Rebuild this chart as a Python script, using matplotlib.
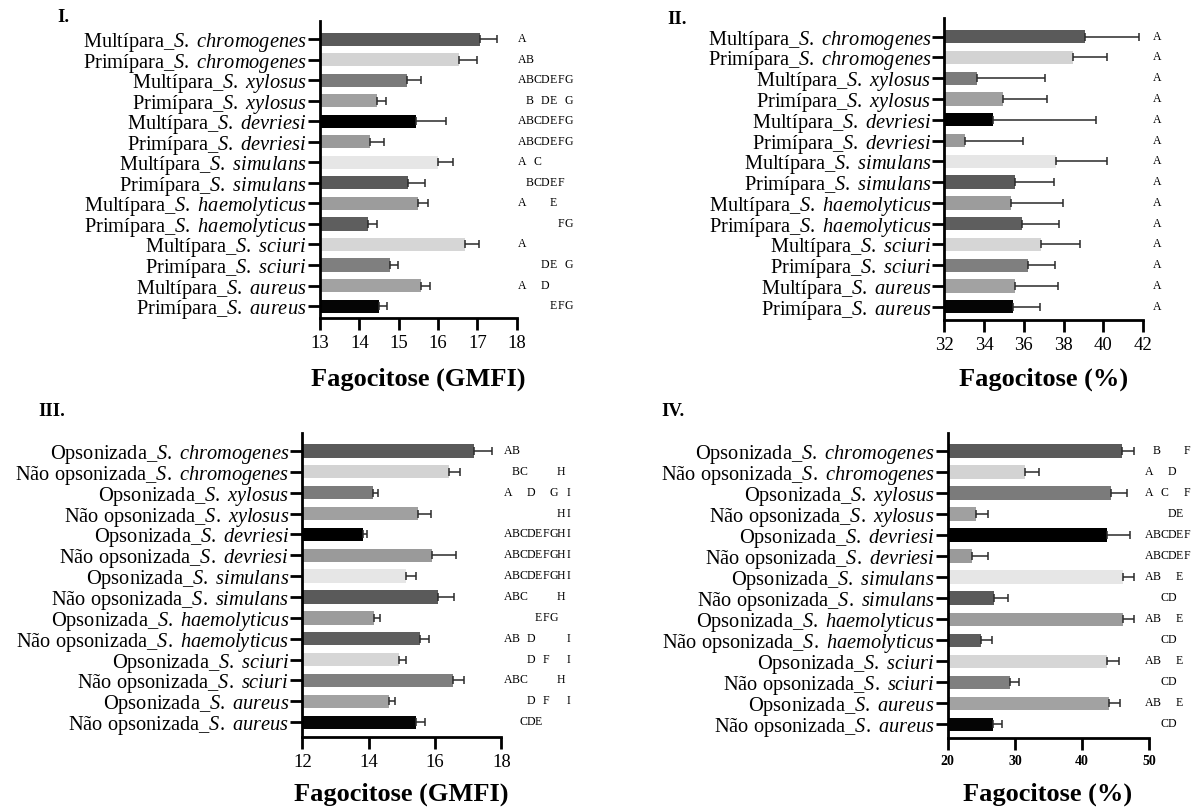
import matplotlib
matplotlib.use('Agg')
import matplotlib.pyplot as plt

plt.rcParams['font.family'] = ['Liberation Serif', 'DejaVu Serif']
plt.rcParams['mathtext.fontset'] = 'custom'
plt.rcParams['mathtext.rm'] = 'Liberation Serif'
plt.rcParams['mathtext.it'] = 'Liberation Serif:italic'
plt.rcParams['mathtext.bf'] = 'Liberation Serif:bold'

# ---------------- data ----------------
species = ['chromogenes', 'xylosus', 'devriesi', 'simulans', 'haemolyticus', 'sciuri', 'aureus']
groups_parity = ['Multípara', 'Primípara']
groups_ops = ['Opsonizada', 'Não opsonizada']

gmfi_parity_mean = [17.06, 16.54, 15.20, 14.46, 15.45, 14.28, 16.01, 15.23, 15.50, 14.23, 16.69, 14.78, 15.57, 14.49]
gmfi_parity_sem = [0.45, 0.44, 0.37, 0.21, 0.75, 0.35, 0.36, 0.44, 0.25, 0.23, 0.34, 0.21, 0.23, 0.21]
gmfi_parity_letters = ['A', 'AB', 'ABCDEFG', 'BDEG', 'ABCDEFG', 'ABCDEFG', 'AC', 'BCDEF', 'AE', 'FG', 'A', 'DEG', 'AD', 'EFG']

pct_parity_mean = [39.10, 38.47, 33.63, 34.97, 34.44, 33.04, 37.60, 35.53, 35.34, 35.92, 36.88, 36.20, 35.53, 35.44]
pct_parity_sem = [2.69, 1.73, 3.46, 2.21, 5.18, 2.93, 2.60, 1.98, 2.65, 1.84, 1.93, 1.35, 2.17, 1.36]
pct_parity_letters = ['A'] * 14

gmfi_ops_mean = [17.19, 16.41, 14.13, 15.50, 13.82, 15.92, 15.14, 16.10, 14.17, 15.54, 14.92, 16.53, 14.60, 15.43]
gmfi_ops_sem = [0.52, 0.34, 0.15, 0.37, 0.14, 0.72, 0.30, 0.46, 0.16, 0.29, 0.22, 0.34, 0.19, 0.26]
gmfi_ops_letters = ['AB', 'BCH', 'ADGI', 'HI', 'ABCDEFGHI', 'ABCDEFGHI', 'ABCDEFGHI', 'ABCH', 'EFG', 'ABDI', 'DFI', 'ABCH', 'DFI', 'CDE']

pct_ops_mean = [45.90, 31.53, 44.30, 24.15, 43.75, 23.58, 46.10, 26.90, 46.10, 25.00, 43.75, 29.26, 44.00, 26.70]
pct_ops_sem = [1.80, 2.11, 2.40, 1.82, 3.45, 2.42, 1.60, 2.08, 1.70, 1.60, 1.70, 1.34, 1.70, 1.40]
pct_ops_letters = ['BF', 'AD', 'ACF', 'DE', 'ABCDEF', 'ABCDEF', 'ABE', 'CD', 'ABE', 'CD', 'ABE', 'CD', 'ABE', 'CD']

bar_colors = ['#5a5a5a', '#d3d3d3', '#7b7b7b', '#a0a0a0', '#000000', '#9a9a9a', '#e6e6e6',
              '#5a5a5a', '#9c9c9c', '#5e5e5e', '#d6d6d6', '#7f7f7f', '#a2a2a2', '#050505']

labels_parity = [f'{g}_$\\mathit{{S.\\ {s}}}$' for s in species for g in groups_parity]
labels_ops = [f'{g}_$\\mathit{{S.\\ {s}}}$' for s in species for g in groups_ops]

W, H = 1198, 807
fig = plt.figure(figsize=(W / 100, H / 100), dpi=100)


def px_axes(l, r, t, b):
    return [l / W, 1 - b / H, (r - l) / W, (b - t) / H]


panels = [
    dict(rect=px_axes(320, 516.7, 21, 318), ylim=(13.58, -0.88), xlim=(13, 18), xticks=[13, 14, 15, 16, 17, 18],
         mean=gmfi_parity_mean, sem=gmfi_parity_sem, letters=gmfi_parity_letters, labels=labels_parity,
         lx0=1.9, lw=7.65, tickfont=dict(size=13.5), xlabel='Fagocitose (GMFI)', xlab_xy=(418, 379),
         title='I.', title_xy=(57, 17)),
    dict(rect=px_axes(944.4, 1143, 18, 320), ylim=(13.64, -0.90), xlim=(32, 42), xticks=[32, 34, 36, 38, 40, 42],
         mean=pct_parity_mean, sem=pct_parity_sem, letters=pct_parity_letters, labels=labels_parity,
         lx0=10, lw=7.6, tickfont=dict(size=13.5), xlabel='Fagocitose (%)', xlab_xy=(1044, 379),
         title='II.', title_xy=(667, 19)),
    dict(rect=px_axes(302.3, 501.3, 433, 737), ylim=(13.71, -0.86), xlim=(12, 18), xticks=[12, 14, 16, 18],
         mean=gmfi_ops_mean, sem=gmfi_ops_sem, letters=gmfi_ops_letters, labels=labels_ops,
         lx0=3, lw=7.6, tickfont=dict(size=13.5), xlabel='Fagocitose (GMFI)', xlab_xy=(401, 794),
         title='III.', title_xy=(38, 411)),
    dict(rect=px_axes(947.8, 1149.2, 433, 738), ylim=(13.65, -0.86), xlim=(20, 50), xticks=[20, 30, 40, 50],
         mean=pct_ops_mean, sem=pct_ops_sem, letters=pct_ops_letters, labels=labels_ops,
         lx0=-3.8, lw=7.6, tickfont=dict(size=10, weight='bold'), xlabel='Fagocitose (%)', xlab_xy=(1048, 794),
         title='IV.', title_xy=(661, 411)),
]

for p in panels:
    ax = fig.add_axes(p['rect'])
    n = len(p['mean'])
    ypos = list(range(n))
    ax.barh(ypos, p['mean'], height=0.64, color=bar_colors, left=0, zorder=2)
    ax.errorbar(p['mean'], ypos, xerr=[[0] * n, p['sem']], fmt='none', ecolor='#2a2a2a',
                elinewidth=1.1, capsize=2.6, capthick=1.1, zorder=3)
    ax.set_xlim(*p['xlim'])
    ax.set_ylim(*p['ylim'])
    ax.set_xticks(p['xticks'])
    ax.set_xticklabels([str(t) for t in p['xticks']], **p['tickfont'])
    ax.set_yticks(ypos)
    ax.set_yticklabels(p['labels'], fontsize=14.7)
    for s in ['top', 'right']:
        ax.spines[s].set_visible(False)
    for s in ['left', 'bottom']:
        ax.spines[s].set_linewidth(2.0)
    ax.tick_params(axis='y', direction='out', length=8.5, width=2.0, pad=1)
    ax.tick_params(axis='x', direction='out', length=8.5, width=2.0, pad=4)
    ax.set_facecolor('white')

    # letters (compact letter display), laid out in columns right of the axis
    axw_px = p['rect'][2] * W
    tr = ax.get_yaxis_transform()
    for yi, lets in zip(ypos, p['letters']):
        for ch in lets:
            k = ord(ch) - ord('A')
            xf = 1 + (p['lx0'] + (k + 0.5) * p['lw']) / axw_px
            ax.text(xf, yi, ch, transform=tr, ha='center', va='center', fontsize=8.5, clip_on=False)

    fig.text(p['xlab_xy'][0] / W, 1 - p['xlab_xy'][1] / H, p['xlabel'], ha='center', va='center',
             fontsize=19, fontweight='bold')
    fig.text(p['title_xy'][0] / W, 1 - p['title_xy'][1] / H, p['title'], ha='left', va='center',
             fontsize=13.5, fontweight='bold')

fig.savefig('out.png', dpi=100, facecolor='white')
